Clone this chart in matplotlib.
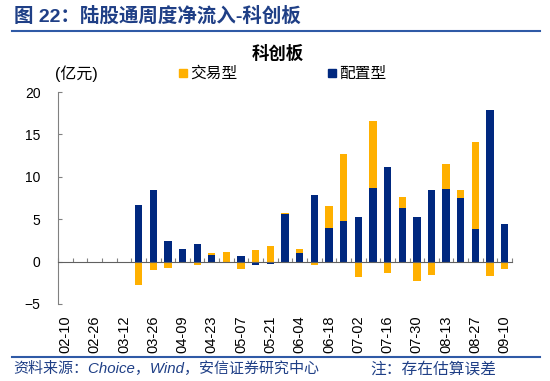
import matplotlib
matplotlib.use('Agg')
import matplotlib.pyplot as plt
import matplotlib.transforms as mtransforms
from matplotlib.patches import Rectangle
import numpy as np

plt.rcParams['font.family'] = ['Liberation Sans', 'Noto Sans CJK SC', 'DejaVu Sans']

# weekly dates (every second one is labelled on the axis)
dates = ['02-10', '02-19', '02-26', '03-05', '03-12', '03-19', '03-26', '04-02',
         '04-09', '04-16', '04-23', '04-30', '05-07', '05-14', '05-21', '05-28',
         '06-04', '06-11', '06-18', '06-25', '07-02', '07-09', '07-16', '07-23',
         '07-30', '08-06', '08-13', '08-20', '08-27', '09-03', '09-10']

# 配置型 (allocation) weekly net inflow, 亿元
allocation = [0, 0, 0, 0, 0, 6.7, 8.4, 2.4, 1.5, 2.1, 0.75, 0, 0.7, -0.45, -0.3,
              5.6, 1.0, 7.8, 4.0, 4.8, 5.3, 8.7, 11.2, 6.3, 5.3, 8.5, 8.6, 7.5,
              3.9, 17.9, 4.4]
# 交易型 (trading) weekly net inflow, 亿元
trading = [0, 0, 0, 0, 0, -2.8, -1.0, -0.75, -0.1, -0.35, 0.3, 1.1, -0.9, 1.4, 1.8,
           0.1, 0.45, -0.35, 2.5, 7.9, -1.8, 7.9, -1.4, 1.3, -2.3, -1.6, 2.9, 1.0,
           10.2, -1.75, -0.9]

orange = '#FFB000'
navy = '#00287F'
title_blue = '#1F3F86'

fig = plt.figure(figsize=(5.5, 3.81), dpi=100)
ax = fig.add_axes([0.1055, 0.2021, 0.8255, 0.5564])

x = np.arange(len(dates))
alloc = np.array(allocation)
trade = np.array(trading)

# positives stack upward from zero, negatives downward
alloc_base = np.zeros(len(x))
trade_base = np.where((trade >= 0) == (alloc >= 0), alloc, 0)
ax.bar(x, alloc, width=0.5, bottom=alloc_base, color=navy, zorder=2)
ax.bar(x, trade, width=0.5, bottom=trade_base, color=orange, zorder=2)

ax.set_xlim(-0.5, len(dates) - 0.5)
ax.set_ylim(-5, 20)
ax.set_yticks([-5, 0, 5, 10, 15, 20])
ax.tick_params(axis='y', direction='in', length=3, pad=12.5, labelsize=10,
               color='#808080')

for s in ['top', 'right']:
    ax.spines[s].set_visible(False)
ax.spines['left'].set_color('#808080')
ax.spines['bottom'].set_position(('data', 0))
ax.spines['bottom'].set_color('#606060')
ax.set_xticks(np.arange(len(dates) + 1) - 0.5)
ax.set_xticklabels([])
ax.tick_params(axis='x', direction='in', length=3, color='#808080')

trans = mtransforms.blended_transform_factory(ax.transData, ax.transAxes)
for i in range(0, len(dates), 2):
    ax.text(i, -0.052, dates[i], transform=trans, rotation=90, ha='center',
            va='top', fontsize=10.5)

# chart title, unit and legend
fig.text(278 / 550, 1 - 54 / 381, '科创板', ha='center', va='center',
         fontsize=12.5, fontweight='bold', family=['Noto Sans CJK SC'])
fig.text(55 / 550, 1 - 73.5 / 381, '(亿元)', ha='left', va='center', fontsize=11.5)
fig.patches.append(Rectangle((179 / 550, 1 - 76.5 / 381), 8 / 550, 8 / 381,
                             transform=fig.transFigure, color=orange))
fig.text(190 / 550, 1 - 73.5 / 381, '交易型', ha='left', va='center', fontsize=11.3)
fig.patches.append(Rectangle((328 / 550, 1 - 76.5 / 381), 8 / 550, 8 / 381,
                             transform=fig.transFigure, color=navy))
fig.text(339 / 550, 1 - 73.5 / 381, '配置型', ha='left', va='center', fontsize=11.3)

# header and footer
fig.text(14 / 550, 1 - 16 / 381, '图 22：陆股通周度净流入-科创板', ha='left', va='center',
         fontsize=14, fontweight='bold', color=title_blue,
         family=['Liberation Sans', 'Noto Sans CJK SC'])
fig.add_artist(plt.Line2D([12 / 550, 540 / 550], [1 - 31 / 381, 1 - 31 / 381],
                          transform=fig.transFigure, color='#2F5AA6', lw=1.5))
fig.add_artist(plt.Line2D([12 / 550, 540 / 550], [1 - 357 / 381, 1 - 357 / 381],
                          transform=fig.transFigure, color='#2F5AA6', lw=1.5))
fig.text(13 / 550, 1 - 369 / 381, '资料来源：Choice，Wind，安信证券研究中心', ha='left',
         va='center', fontsize=10.8, style='italic', color=title_blue)
fig.text(370 / 550, 1 - 369 / 381, '注：存在估算误差', ha='left', va='center',
         fontsize=11.3, style='italic', color=title_blue)

fig.savefig('out.png', dpi=100)
